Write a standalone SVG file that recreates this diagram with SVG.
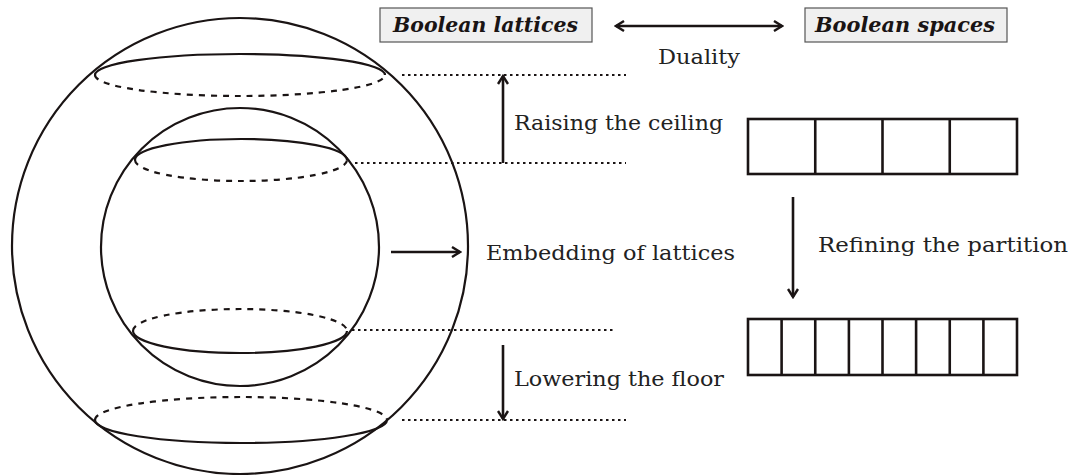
<svg xmlns="http://www.w3.org/2000/svg" width="1069" height="475" viewBox="0 0 1069 475">
<style>
.s{fill:none;stroke:#1a1414;stroke-width:2.2}
.d{fill:none;stroke:#1a1414;stroke-width:2.2;stroke-dasharray:6 6}
.dot{fill:none;stroke:#1a1414;stroke-width:2;stroke-dasharray:2.5 3.5}
.arr{fill:none;stroke:#1a1414;stroke-width:2.6}
.cell{fill:#fff;stroke:#1a1414;stroke-width:2.6}
.lbl{font-family:"DejaVu Serif","Liberation Serif",serif;font-size:21px;fill:#222}
.box{fill:#f0f0f0;stroke:#555;stroke-width:1.2}
.bt{font-family:"DejaVu Serif","Liberation Serif",serif;font-size:20px;font-weight:bold;font-style:italic;fill:#1a1414}
</style>
<defs>
<marker id="ah" viewBox="0 0 12 12" refX="10" refY="6" markerWidth="12" markerHeight="12" markerUnits="userSpaceOnUse" orient="auto-start-reverse">
<path d="M2,1 L10,6 L2,11" fill="none" stroke="#1a1414" stroke-width="2.4"/>
</marker>
</defs>
<g id="outer-sphere">
<circle class="s" cx="240" cy="246" r="228"/>
<path class="s" d="M95,75 A145,21 0 0 1 385,75"/>
<path class="d" d="M95,75 A145,21 0 0 0 385,75"/>
<path class="d" d="M95,420 A146,23 0 0 1 387,420"/>
<path class="s" d="M95,420 A146,23 0 0 0 387,420"/>
</g>
<g id="inner-sphere">
<circle class="s" cx="240" cy="247" r="139"/>
<path class="s" d="M135,160 A106,21 0 0 1 347,160"/>
<path class="d" d="M135,160 A106,21 0 0 0 347,160"/>
<path class="d" d="M133,331 A107,22 0 0 1 347,331"/>
<path class="s" d="M133,331 A107,22 0 0 0 347,331"/>
</g>
<g id="guides">
<line class="dot" x1="402" y1="75" x2="626" y2="75"/>
<line class="dot" x1="355" y1="163" x2="626" y2="163"/>
<line class="dot" x1="352" y1="330" x2="616" y2="330"/>
<line class="dot" x1="402" y1="420" x2="626" y2="420"/>
</g>
<g id="box-lattices">
<rect class="box" x="380" y="8" width="212" height="34"/>
<text class="bt" x="393" y="32" textLength="185" lengthAdjust="spacingAndGlyphs">Boolean lattices</text>
</g>
<g id="box-spaces">
<rect class="box" x="805" y="8" width="202" height="34"/>
<text class="bt" x="815" y="32" textLength="180" lengthAdjust="spacingAndGlyphs">Boolean spaces</text>
</g>
<g id="partition-4">
<rect class="cell" x="748" y="119" width="269" height="55"/>
<line class="cell" x1="815.25" y1="119" x2="815.25" y2="174"/>
<line class="cell" x1="882.5" y1="119" x2="882.5" y2="174"/>
<line class="cell" x1="949.75" y1="119" x2="949.75" y2="174"/>
</g>
<g id="partition-8">
<rect class="cell" x="748" y="319" width="269" height="56"/>
<line class="cell" x1="781.6" y1="319" x2="781.6" y2="375"/>
<line class="cell" x1="815.25" y1="319" x2="815.25" y2="375"/>
<line class="cell" x1="848.9" y1="319" x2="848.9" y2="375"/>
<line class="cell" x1="882.5" y1="319" x2="882.5" y2="375"/>
<line class="cell" x1="916.1" y1="319" x2="916.1" y2="375"/>
<line class="cell" x1="949.75" y1="319" x2="949.75" y2="375"/>
<line class="cell" x1="983.4" y1="319" x2="983.4" y2="375"/>
</g>
<g id="connectors">
<line class="arr" x1="616" y1="26" x2="782" y2="26" marker-start="url(#ah)" marker-end="url(#ah)"/>
<line class="arr" x1="503" y1="163" x2="503" y2="76" marker-end="url(#ah)"/>
<line class="arr" x1="503" y1="345" x2="503" y2="419" marker-end="url(#ah)"/>
<line class="arr" x1="391" y1="252" x2="460" y2="252" marker-end="url(#ah)"/>
<line class="arr" x1="793" y1="197" x2="793" y2="297" marker-end="url(#ah)"/>
</g>
<g id="labels">
<text class="lbl" x="658" y="64" textLength="82" lengthAdjust="spacingAndGlyphs">Duality</text>
<text class="lbl" x="514" y="130" textLength="209" lengthAdjust="spacingAndGlyphs">Raising the ceiling</text>
<text class="lbl" x="486" y="260" textLength="249" lengthAdjust="spacingAndGlyphs">Embedding of lattices</text>
<text class="lbl" x="818" y="252" textLength="250" lengthAdjust="spacingAndGlyphs">Refining the partition</text>
<text class="lbl" x="514" y="386" textLength="210" lengthAdjust="spacingAndGlyphs">Lowering the floor</text>
</g>
</svg>
